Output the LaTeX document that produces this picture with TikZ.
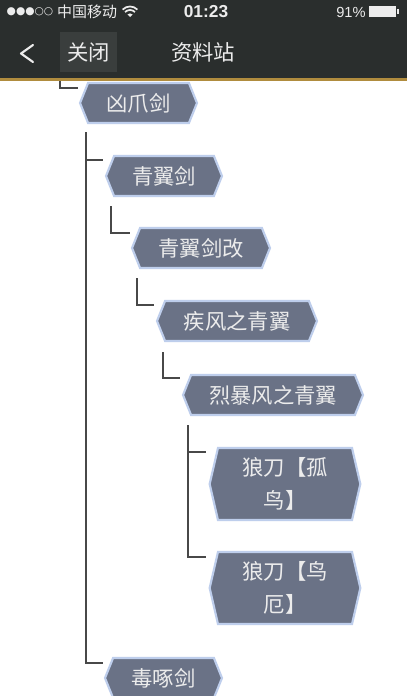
\documentclass[tikz,border=0pt]{standalone}
\usepackage{fontspec}
\usetikzlibrary{shapes.symbols,calc}
\newfontfamily\cjk{Noto Sans CJK SC}
\newfontfamily\latinsf{Liberation Sans}
\newfontfamily\symfont{DejaVu Sans}
\definecolor{cbar}{RGB}{42,46,45}
\definecolor{cbtn}{RGB}{58,62,61}
\definecolor{cgold}{RGB}{176,140,62}
\definecolor{cnode}{RGB}{106,114,134}
\definecolor{cglow}{RGB}{190,206,236}
\definecolor{clink}{RGB}{72,72,72}
\definecolor{ctxt}{RGB}{236,236,236}

\begin{document}
\begin{tikzpicture}[
  x=0.75pt, y=-0.75pt,
  item/.style={signal, signal to=west and east, signal pointer angle=136,
               fill=cnode, draw=cglow, line width=1.6pt, text=ctxt,
               minimum height=30pt, inner sep=2pt, align=center,
               font=\cjk\fontsize{16pt}{25pt}\selectfont},
  tallitem/.style={item, signal pointer angle=154, minimum height=54pt},
  link/.style={draw=clink, line width=1.1pt},
  bartxt/.style={text=ctxt, inner sep=0pt}
]
\useasboundingbox (0,0) rectangle (407,696);
\fill[white] (0,0) rectangle (407,696);

% ---------- tree items ----------
\node[item, minimum width=87.75pt] (n1) at (138.5,103) {凶爪剑};
\node[item, minimum width=87pt]    (n2) at (164,176)   {青翼剑};
\node[item, minimum width=103.5pt] (n3) at (201,248)   {青翼剑改};
\node[item, minimum width=120pt]   (n4) at (237,321)   {疾风之青翼};
\node[item, minimum width=135pt]   (n5) at (273,395)   {烈暴风之青翼};
\node[tallitem, minimum width=113pt] (n6) at (285,484) {狼刀【孤\\鸟】};
\node[tallitem, minimum width=113pt] (n7) at (285,588) {狼刀【鸟\\厄】};
\node[item, minimum width=87.75pt] (n8) at (163.5,678) {毒啄剑};

% ---------- connectors ----------
\coordinate (s0) at (60,78);   \coordinate (e1) at (78,88);
\coordinate (s1) at (86,132);  \coordinate (e2) at (103,160);
                               \coordinate (e8) at (103,663);
\coordinate (s2) at (111,206); \coordinate (e3) at (130,233);
\coordinate (s3) at (137,278); \coordinate (e4) at (154,305);
\coordinate (s4) at (163,352); \coordinate (e5) at (180,378);
\coordinate (s5) at (188,425); \coordinate (e6) at (206,452);
                               \coordinate (e7) at (206,557);

\draw[link] (s0) |- (e1);
\draw[link] (s1) |- (e8);
\draw[link] (s1 |- e2) -- (e2);
\foreach \a/\b in {s2/e3,s3/e4,s4/e5}
  \draw[link] (\a) |- (\b);
\draw[link] (s5) |- (e7);
\draw[link] (s5 |- e6) -- (e6);

% ---------- header ----------
\fill[cbar] (0,0) rectangle (407,78);
\fill[cgold] (0,78) rectangle (407,81);

% status bar
\node[bartxt, font=\symfont\fontsize{8pt}{9pt}\selectfont] (sig) at (30,12) {●●●○○};
\node[bartxt, font=\cjk\fontsize{11.25pt}{12pt}\selectfont] (carrier) at (87,12) {中国移动};
\coordinate (wifi) at (130,17);
\fill[ctxt] (wifi) -- ++(-45:3.6) arc[start angle=-45, end angle=-135, radius=3.6] -- cycle;
\draw[ctxt, line width=1.3pt] (wifi) ++(-45:7) arc[start angle=-45, end angle=-135, radius=7];
\draw[ctxt, line width=1.3pt] (wifi) ++(-45:10.5) arc[start angle=-45, end angle=-135, radius=10.5];
\node[bartxt, font=\latinsf\bfseries\fontsize{13pt}{14pt}\selectfont] (clock) at (206,12) {01:23};
\node[bartxt, font=\latinsf\fontsize{11pt}{12pt}\selectfont] (level) at (351,12) {91\%};
\node[draw=ctxt, fill=ctxt, line width=0.6pt, minimum width=20pt, minimum height=7.5pt,
      inner sep=0pt] (batt) at (382.5,11.5) {};
\fill[ctxt] ($(batt.east)+(0.3,-2.2)$) rectangle ($(batt.east)+(2.6,2.2)$);

% nav bar
\draw[ctxt, line width=1.6pt, line cap=round, line join=round] (33,45) -- (21,53.5) -- (33,62);
\node[bartxt, fill=cbtn, minimum width=42.75pt, minimum height=30pt,
      font=\cjk\fontsize{16pt}{18pt}\selectfont] (close) at (88.5,52) {关闭};
\node[bartxt, font=\cjk\fontsize{16pt}{18pt}\selectfont] (title) at (203,52) {资料站};

\end{tikzpicture}
\end{document}
